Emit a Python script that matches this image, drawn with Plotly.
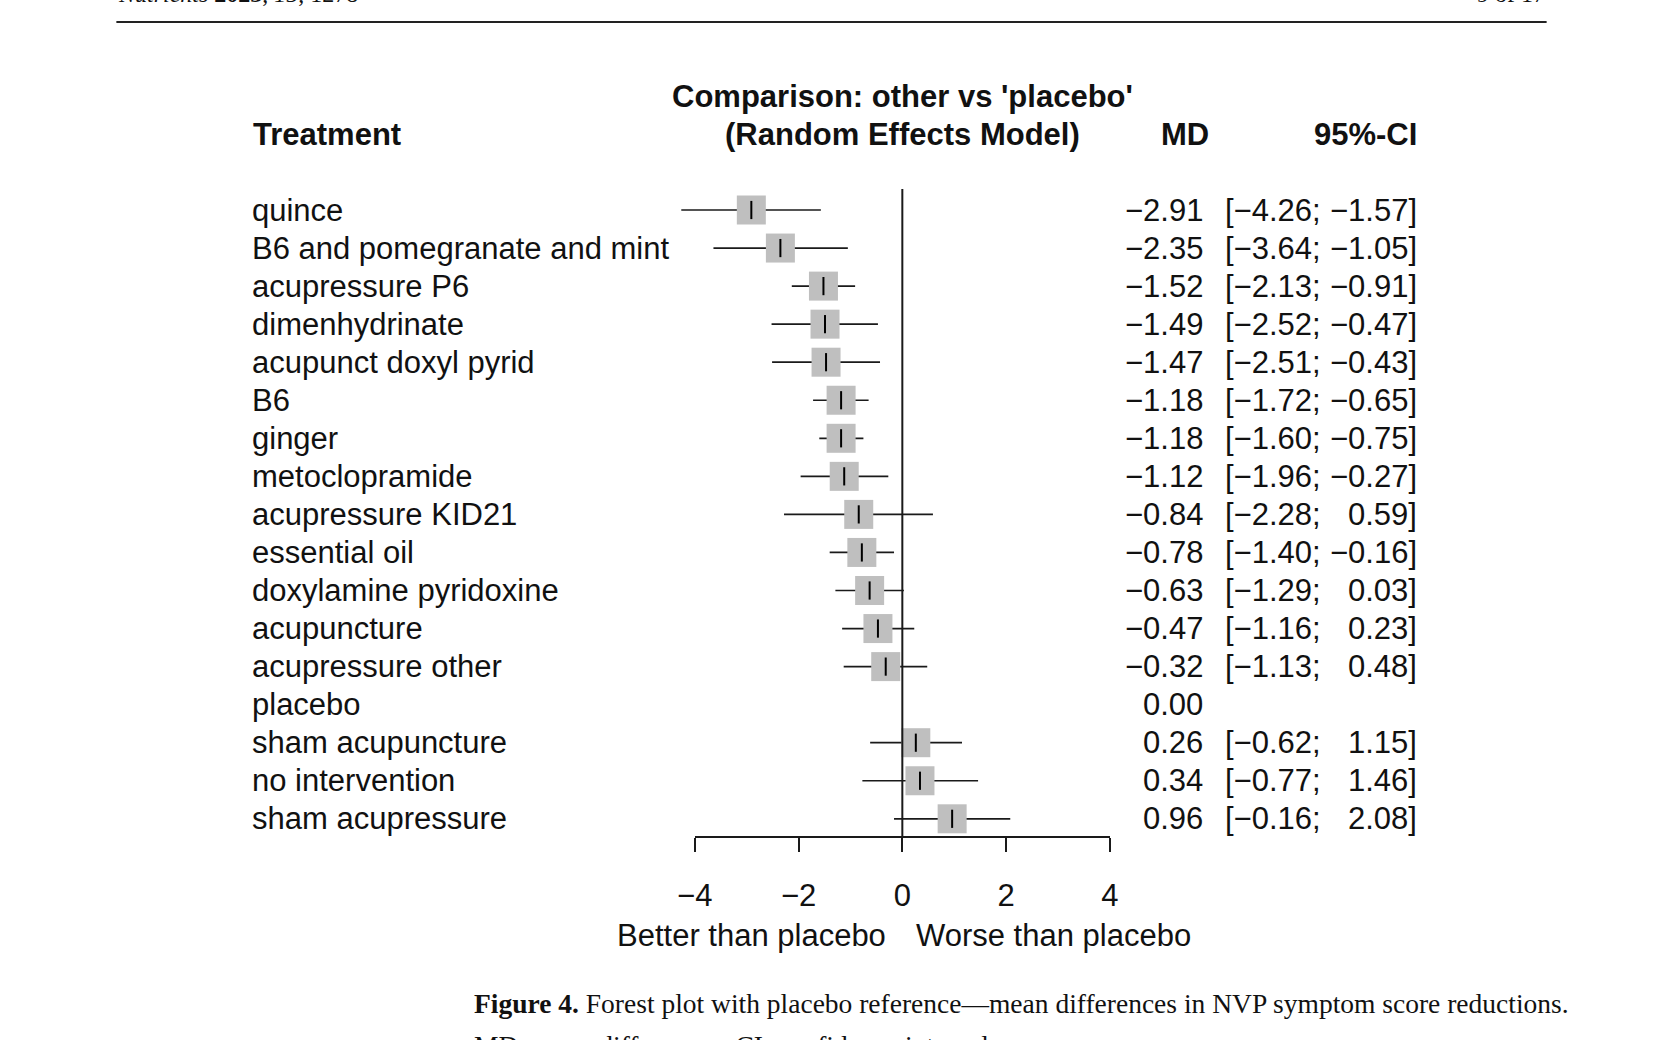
import plotly.graph_objects as go

# ---------------- data ----------------
treatments = ["quince", "B6 and pomegranate and mint", "acupressure P6", "dimenhydrinate",
              "acupunct doxyl pyrid", "B6", "ginger", "metoclopramide", "acupressure KID21",
              "essential oil", "doxylamine pyridoxine", "acupuncture", "acupressure other",
              "placebo", "sham acupuncture", "no intervention", "sham acupressure"]
md = [-2.91, -2.35, -1.52, -1.49, -1.47, -1.18, -1.18, -1.12, -0.84, -0.78, -0.63,
      -0.47, -0.32, 0.00, 0.26, 0.34, 0.96]
ci_low = [-4.26, -3.64, -2.13, -2.52, -2.51, -1.72, -1.60, -1.96, -2.28, -1.40, -1.29,
          -1.16, -1.13, None, -0.62, -0.77, -0.16]
ci_high = [-1.57, -1.05, -0.91, -0.47, -0.43, -0.65, -0.75, -0.27, 0.59, -0.16, 0.03,
           0.23, 0.48, None, 1.15, 1.46, 2.08]
tick_vals = [-4, -2, 0, 2, 4]
tick_text = ["−4", "−2", "0", "2", "4"]

# ---------------- geometry ----------------
W, H = 1654, 1040
X0_PX, UNIT_PX = 899.0, 52.75          # pixel of x=0, pixels per unit
ROW0_PX, ROW_PX = 210.0, 38.05         # pixel of first row, row spacing
AXIS_Y_PX = 837.0

x_range = [-X0_PX / UNIT_PX, (W - X0_PX) / UNIT_PX]
y_range = [(H - ROW0_PX) / ROW_PX, -ROW0_PX / ROW_PX]

def px_to_row(py):
    return (py - ROW0_PX) / ROW_PX

def fmt(v):
    return f"{v:.2f}".replace("-", "−")

FONT = "Liberation Sans, Arial, sans-serif"
SERIF = "Liberation Serif, Times New Roman, serif"
FS = 31
INK = "#111111"
LINE = "#1a1a1a"

rows = list(range(len(treatments)))
valid = [i for i in rows if ci_low[i] is not None]

fig = go.Figure()

# CI lines
cx, cy = [], []
for i in valid:
    cx += [ci_low[i], ci_high[i], None]
    cy += [i, i, None]
fig.add_trace(go.Scatter(x=cx, y=cy, mode="lines", line=dict(color=LINE, width=1.7),
                         hoverinfo="skip", showlegend=False))
# squares
fig.add_trace(go.Scatter(x=[md[i] for i in valid], y=valid, mode="markers",
                         marker=dict(symbol="square", size=29, color="rgb(191,191,191)",
                                     line=dict(width=0)),
                         showlegend=False))
# point estimate ticks
fig.add_trace(go.Scatter(x=[md[i] for i in valid], y=valid, mode="markers",
                         marker=dict(symbol="line-ns", size=13,
                                     line=dict(color="#000000", width=2)),
                         showlegend=False, hoverinfo="skip"))
# reference line at 0 (on the visible axis)
fig.add_trace(go.Scatter(x=[0, 0], y=[px_to_row(189), px_to_row(AXIS_Y_PX)], mode="lines",
                         xaxis="x2", yaxis="y", line=dict(color=LINE, width=2),
                         hoverinfo="skip", showlegend=False))

ann = []
def add(text, xpx, ypx=None, row=None, xanchor="left", bold=False, size=FS, font=FONT,
        yanchor="middle"):
    if bold:
        text = f"<b>{text}</b>"
    d = dict(text=text, x=xpx / W, xref="paper", xanchor=xanchor, yanchor=yanchor,
             showarrow=False, font=dict(family=font, size=size, color=INK))
    if row is not None:
        d.update(y=row, yref="y")
    else:
        d.update(y=1 - ypx / H, yref="paper")
    ann.append(d)

# headers
add("Comparison: other vs 'placebo'", X0_PX, 96, xanchor="center", bold=True)
add("(Random Effects Model)", X0_PX, 135, xanchor="center", bold=True)
add("Treatment", 237, 135, bold=True)
add("MD", 1186, 135, xanchor="center", bold=True)
add("95%-CI", 1424, 135, xanchor="right", bold=True)

for i in rows:
    add(treatments[i], 236, row=i)
    add(fmt(md[i]), 1207, row=i, xanchor="right")
    if ci_low[i] is not None:
        add("[" + fmt(ci_low[i]) + ";", 1225, row=i)
        add(fmt(ci_high[i]) + "]", 1424, row=i, xanchor="right")

add("Better than placebo", 746, 935, xanchor="center")
add("Worse than placebo", 1053, 935, xanchor="center")

# page furniture
add("<b>Figure 4.</b> Forest plot with placebo reference—mean differences in NVP symptom score reductions.",
    462, 1003, font=SERIF, size=27.5)
add("MD: mean differences; CI: confidence interval.", 462, 1028, font=SERIF, size=27.5,
    yanchor="top")
add("<i>Nutrients</i> <b>2023</b>, <i>15</i>, 1278", 100, 9, font=SERIF, size=24,
    yanchor="bottom")
add("9 of 17", 1554, 9, xanchor="right", font=SERIF, size=24, yanchor="bottom")

fig.update_layout(
    width=W, height=H, margin=dict(l=0, r=0, t=0, b=0),
    paper_bgcolor="white", plot_bgcolor="rgba(0,0,0,0)",
    xaxis=dict(domain=[0, 1], range=x_range, visible=False, fixedrange=True),
    yaxis=dict(domain=[0, 1], range=y_range, visible=False, fixedrange=True),
    xaxis2=dict(domain=[(X0_PX - 4 * UNIT_PX) / W, (X0_PX + 4 * UNIT_PX) / W],
                range=[-4, 4], anchor="free", position=1 - AXIS_Y_PX / H,
                showline=True, linecolor=LINE, linewidth=2, showgrid=False,
                zeroline=False, ticks="outside", ticklen=14, tickwidth=2,
                tickcolor=LINE, tickvals=tick_vals, ticktext=tick_text,
                ticklabelstandoff=17,
                tickfont=dict(family=FONT, size=FS, color=INK), fixedrange=True),
    annotations=ann,
    shapes=[dict(type="line", xref="paper", yref="paper", x0=100 / W, x1=1554 / W,
                 y0=1 - 22 / H, y1=1 - 22 / H, line=dict(color="#222", width=2))],
    showlegend=False,
)

fig.write_html("out.html")
